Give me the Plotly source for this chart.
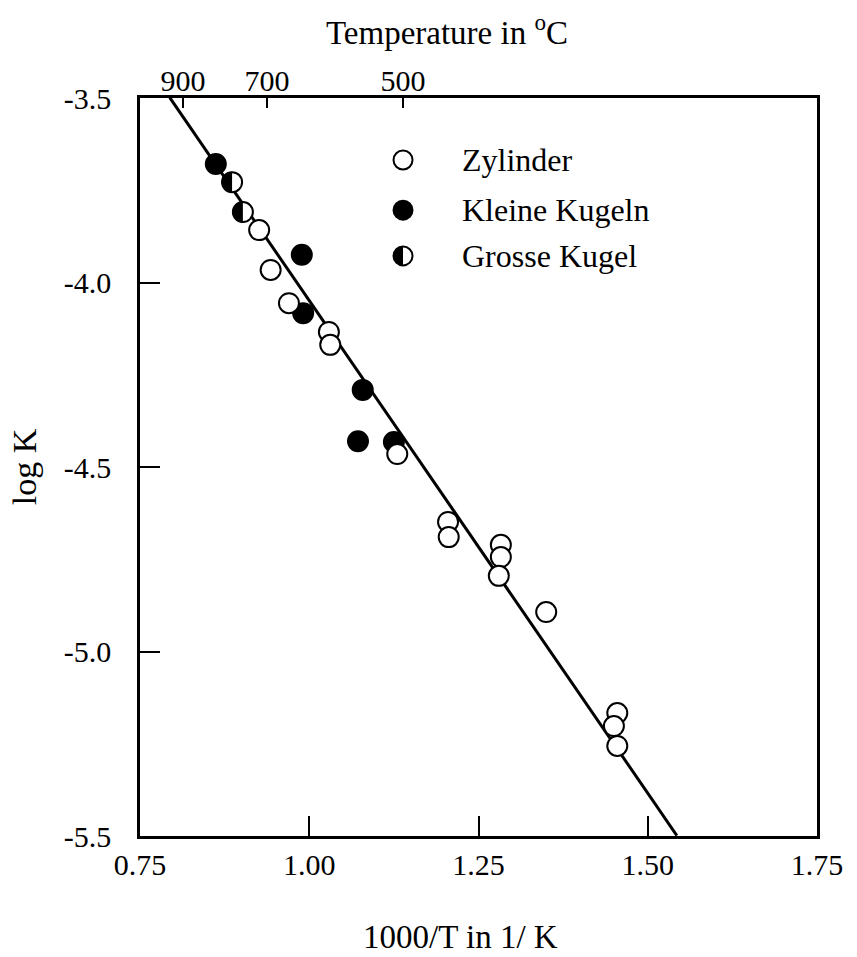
import numpy as np
import plotly.graph_objects as go

# ---------------- data ----------------
zyl_x = [0.926, 0.943, 0.970, 1.029, 1.031, 1.130, 1.205, 1.206, 1.283, 1.283, 1.280, 1.350, 1.455, 1.450, 1.455]
zyl_y = [-3.858, -3.966, -4.056, -4.134, -4.169, -4.465, -4.649, -4.690, -4.711, -4.744, -4.795, -4.893, -5.167, -5.202, -5.256]

klein_x = [0.862, 0.989, 0.991, 1.079, 1.072, 1.125]
klein_y = [-3.679, -3.925, -4.083, -4.291, -4.430, -4.432]

gross_x = [0.886, 0.902]
gross_y = [-3.728, -3.809]

# fitted line: log K = fit_a + fit_b * (1000/T)
fit_a = -1.379
fit_b = -2.670
fit_x = [0.794, 1.543]

x_ticks = [0.75, 1.00, 1.25, 1.50, 1.75]
x_ticktext = ["0.75", "1.00", "1.25", "1.50", "1.75"]
y_ticks = [-3.5, -4.0, -4.5, -5.0, -5.5]
y_ticktext = ["-3.5", "-4.0", "-4.5", "-5.0", "-5.5"]
top_tick_pos = [0.8135, 0.9375, 1.1385]
top_tick_text = ["900", "700", "500"]

legend_labels = ["Zylinder", "Kleine Kugeln", "Grosse Kugel"]

FONT = "Liberation Serif"
TICK_SIZE = 30
TITLE_SIZE = 33
MS = 20

fig = go.Figure()

fit_y = [fit_a + fit_b * v for v in fit_x]
fig.add_trace(go.Scatter(x=fit_x, y=fit_y, mode="lines",
                         line=dict(color="black", width=3), showlegend=False))

fig.add_trace(go.Scatter(x=klein_x, y=klein_y, mode="markers",
                         marker=dict(size=MS, color="black", line=dict(color="black", width=2)),
                         showlegend=False))
fig.add_trace(go.Scatter(x=gross_x, y=gross_y, mode="markers",
                         marker=dict(size=MS, color="white", line=dict(color="black", width=2)),
                         showlegend=False))
fig.add_trace(go.Scatter(x=zyl_x, y=zyl_y, mode="markers",
                         marker=dict(size=MS, color="white", line=dict(color="black", width=2)),
                         showlegend=False))
# invisible trace to activate the top axis
fig.add_trace(go.Scatter(x=[fit_x[0]], y=[fit_y[0]], xaxis="x2", mode="markers",
                         marker=dict(opacity=0), showlegend=False, hoverinfo="skip"))


def half_path(r, n=24):
    pts = []
    for i in range(n + 1):
        a = np.pi / 2 + np.pi * i / n
        pts.append((r * np.cos(a), r * np.sin(a)))
    return "M " + " L ".join(f"{px:.2f},{py:.2f}" for px, py in pts) + " Z"


# left black halves of the "Grosse Kugel" markers
for gx, gy in zip(gross_x, gross_y):
    fig.add_shape(type="path", xref="x", yref="y", xsizemode="pixel", ysizemode="pixel",
                  xanchor=gx, yanchor=gy, path=half_path(10.5),
                  fillcolor="black", line=dict(width=0), layer="above")

# ---------------- manual legend ----------------
leg_x = 0.3885
leg_ys = [0.916, 0.848, 0.786]
leg_fill = ["white", "black", "white"]
for i, (lab, ly) in enumerate(zip(legend_labels, leg_ys)):
    fig.add_shape(type="circle", xref="paper", yref="paper", xsizemode="pixel", ysizemode="pixel",
                  xanchor=leg_x, yanchor=ly, x0=-9.5, x1=9.5, y0=-9.5, y1=9.5,
                  fillcolor=leg_fill[i], line=dict(color="black", width=2), layer="above")
    if i == 2:
        fig.add_shape(type="path", xref="paper", yref="paper", xsizemode="pixel", ysizemode="pixel",
                      xanchor=leg_x, yanchor=ly, path=half_path(9.5),
                      fillcolor="black", line=dict(width=0), layer="above")
    fig.add_annotation(x=0.4727, y=ly, xref="paper", yref="paper", text=lab, showarrow=False,
                       xanchor="left", yanchor="middle", font=dict(family=FONT, size=32, color="black"))

# titles
fig.add_annotation(x=0.4535, y=1.092, xref="paper", yref="paper", text="Temperature in <sup>o</sup>C",
                   showarrow=False, xanchor="center", yanchor="middle",
                   font=dict(family=FONT, size=TITLE_SIZE, color="black"))
fig.add_annotation(x=0.474, y=-0.137, xref="paper", yref="paper", text="1000/T in 1/ K",
                   showarrow=False, xanchor="center", yanchor="middle",
                   font=dict(family=FONT, size=TITLE_SIZE, color="black"))
fig.add_annotation(x=-0.171, y=0.5, xref="paper", yref="paper", text="log K", textangle=-90,
                   showarrow=False, xanchor="center", yanchor="middle",
                   font=dict(family=FONT, size=34, color="black"))

fig.update_layout(
    width=857, height=957,
    margin=dict(l=140, r=40, t=98, b=121),
    paper_bgcolor="white", plot_bgcolor="white",
    font=dict(family=FONT, size=TICK_SIZE, color="black"),
    xaxis=dict(range=[0.75, 1.75], tickvals=x_ticks, ticktext=x_ticktext,
               ticks="inside", ticklen=20, tickwidth=2, tickcolor="black",
               showline=True, linecolor="black", linewidth=2.5, mirror=True,
               showgrid=False, zeroline=False, tickfont=dict(family=FONT, size=TICK_SIZE)),
    xaxis2=dict(range=[0.75, 1.75], overlaying="x", side="top",
                tickvals=top_tick_pos, ticktext=top_tick_text,
                ticks="inside", ticklen=10, tickwidth=2, tickcolor="black",
                showline=False, showgrid=False, zeroline=False,
                tickfont=dict(family=FONT, size=TICK_SIZE)),
    yaxis=dict(range=[-5.5, -3.5], tickvals=y_ticks, ticktext=y_ticktext,
               ticks="inside", ticklen=20, tickwidth=2, tickcolor="black",
               showline=True, linecolor="black", linewidth=2.5, mirror=True,
               showgrid=False, zeroline=False, tickfont=dict(family=FONT, size=TICK_SIZE),
               ticklabelstandoff=20),
    showlegend=False,
)

fig.write_html("out.html")
